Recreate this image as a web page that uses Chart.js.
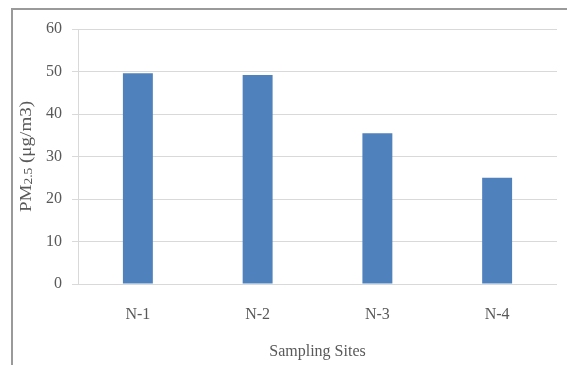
<!DOCTYPE html>
<html>
<head>
<meta charset="utf-8">
<script src="https://cdn.jsdelivr.net/npm/chart.js@4/dist/chart.umd.min.js"></script>
<style>
  html, body { margin: 0; padding: 0; background: #fff; }
  #wrap { position: relative; width: 567px; height: 365px; }
</style>
</head>
<body>
<div id="wrap"><canvas id="c" width="567" height="365"></canvas></div>
<script>
// PM2.5 concentration at each sampling site
const sites = ['N-1', 'N-2', 'N-3', 'N-4'];
const pm25 = [49.6, 49.2, 35.5, 25.0];
const yTicks = [0, 10, 20, 30, 40, 50, 60];

const textColor = '#595959';
const serif = '"Liberation Serif", "Times New Roman", serif';

// Frame lines along the top and left edges plus the rotated y title with subscript
const decor = {
  id: 'decor',
  beforeDraw(chart) {
    const ctx = chart.ctx;
    ctx.save();
    ctx.strokeStyle = '#9a9a9a';
    ctx.lineWidth = 2;
    ctx.beginPath();
    ctx.moveTo(12, 365);
    ctx.lineTo(12, 9);
    ctx.lineTo(567, 9);
    ctx.stroke();
    ctx.restore();
  },
  afterDraw(chart) {
    const ctx = chart.ctx;
    const area = chart.chartArea;
    const parts = [
      { t: 'PM', size: 17, shift: 0 },
      { t: '2.5', size: 12, shift: 2 },
      { t: ' (μg/m3)', size: 17, shift: 0 }
    ];
    ctx.save();
    let total = 0;
    parts.forEach(p => { ctx.font = p.size + 'px ' + serif; p.w = ctx.measureText(p.t).width; total += p.w; });
    ctx.translate(27, (area.top + area.bottom) / 2);
    ctx.rotate(-Math.PI / 2);
    ctx.scale(1.12, 1);
    ctx.fillStyle = textColor;
    ctx.textBaseline = 'middle';
    ctx.textAlign = 'left';
    let x = -total / 2;
    parts.forEach(p => {
      ctx.font = p.size + 'px ' + serif;
      ctx.fillText(p.t, x, p.shift);
      x += p.w;
    });
    ctx.restore();
  }
};

new Chart(document.getElementById('c'), {
  type: 'bar',
  data: {
    labels: sites,
    datasets: [{
      data: pm25,
      backgroundColor: '#4f81bd',
      borderWidth: 0,
      categoryPercentage: 1.0,
      barPercentage: 0.25
    }]
  },
  options: {
    responsive: false,
    animation: false,
    devicePixelRatio: 1,
    layout: { padding: { left: 0, right: 10, top: 29, bottom: 0 } },
    plugins: { legend: { display: false }, tooltip: { enabled: false } },
    scales: {
      x: {
        grid: { display: false, drawTicks: false },
        border: { display: false },
        ticks: { color: textColor, font: { family: serif, size: 16 }, padding: 21 },
        title: {
          display: true,
          text: 'Sampling Sites',
          color: textColor,
          font: { family: serif, size: 16 },
          padding: { top: 10, bottom: 4 }
        },
        afterFit(scale) { scale.height = 81; }
      },
      y: {
        min: 0,
        max: 60,
        afterBuildTicks(scale) { scale.ticks = yTicks.map(v => ({ value: v })); },
        grid: { color: '#d9d9d9', lineWidth: 1, tickLength: 6, drawTicks: true },
        border: { display: true, color: '#d9d9d9' },
        ticks: { color: textColor, font: { family: serif, size: 16 }, padding: 10 },
        afterFit(scale) { scale.width = 78; }
      }
    }
  },
  plugins: [decor]
});
</script>
</body>
</html>
